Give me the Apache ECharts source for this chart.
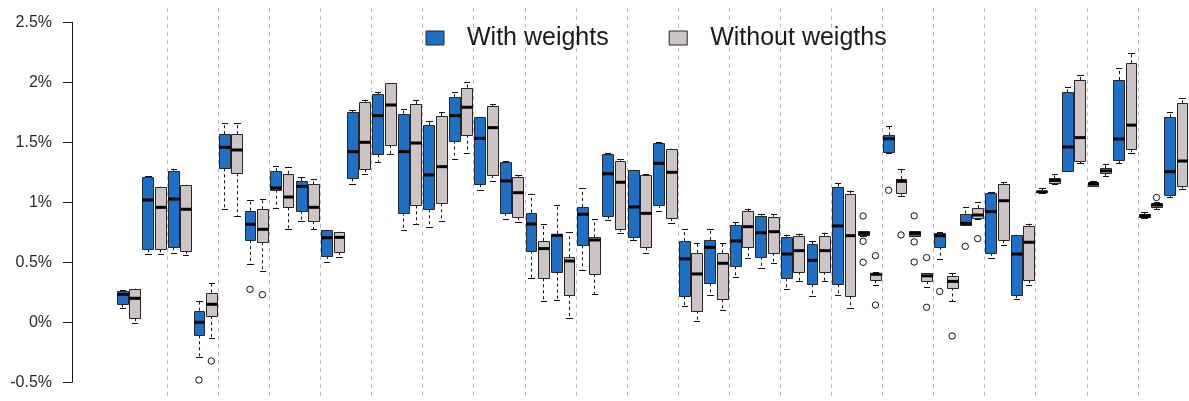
<!DOCTYPE html>
<html>
<head>
<meta charset="utf-8">
<script src="https://cdn.jsdelivr.net/npm/echarts@6/dist/echarts.min.js"></script>
<style>
html,body{margin:0;padding:0;background:#fff;}
#chart{width:1189px;height:401px;}
</style>
</head>
<body>
<div id="chart"></div>
<script>
// ---------------- data (values in %) ----------------
const categories = ['P1','P2','P3','P4','P5','P6','P7','P8','P9','P10','P11','P12','P13','P14',
  'P15','P16','P17','P18','P19','P20','P21','P22','P23','P24','P25','P26','P27','P28',
  'P29','P30','P31','P32','P33','P34','P35','P36','P37','P38','P39','P40','P41','P42'];

const seriesNames = ['With weights', 'Without weigths'];
const yTicks = [-0.5, 0, 0.5, 1, 1.5, 2, 2.5];

// With weights: whisker low, Q1, median, Q3, whisker high
const withMin = [0.117,0.567,0.58,-0.287,0.944,0.483,0.95,0.844,0.503,1.153,1.338,0.769,0.792,1.361,
  1.1,0.863,0.369,0.186,0.438,0.853,0.682,0.93,0.134,0.225,0.38,0.454,0.28,0.219,
  0.228,0.72,1.408,0.72,0.525,0.812,0.539,0.194,1.08,1.26,1.138,1.328,0.872,1.047];
const withQ1 = [0.15,0.608,0.625,-0.108,1.283,0.686,1.105,0.93,0.553,1.2,1.4,0.913,0.942,1.513,
  1.15,0.913,0.597,0.422,0.642,0.888,0.713,0.978,0.219,0.325,0.467,0.547,0.367,0.317,
  0.317,0.725,1.422,0.722,0.63,0.815,0.58,0.228,1.082,1.261,1.14,1.353,0.874,1.061];
const withMed = [0.233,1.019,1.027,0.0,1.458,0.817,1.119,1.133,0.705,1.422,1.722,1.422,1.228,1.722,
  1.533,1.178,0.819,0.725,0.9,1.238,0.961,1.325,0.529,0.625,0.678,0.746,0.569,0.517,
  0.803,0.742,1.53,0.742,0.722,0.825,0.922,0.569,1.088,1.461,1.155,1.528,0.886,1.255];
const withQ3 = [0.261,1.215,1.263,0.097,1.567,0.93,1.258,1.178,0.767,1.75,1.9,1.738,1.642,1.878,
  1.711,1.333,0.913,0.738,0.961,1.405,1.272,1.497,0.677,0.686,0.808,0.887,0.713,0.653,
  1.13,0.758,1.557,0.758,0.742,0.905,1.08,0.728,1.097,1.915,1.167,2.019,0.9,1.71];
const withMax = [0.269,1.219,1.28,0.18,1.658,1.019,1.305,1.211,0.77,1.769,1.917,1.775,1.677,1.922,
  1.711,1.345,1.072,0.98,1.117,1.41,1.272,1.5,0.778,0.778,0.836,0.905,0.73,0.675,
  1.158,0.76,1.636,0.76,0.75,0.958,1.085,0.73,1.117,1.958,1.18,2.117,0.92,1.755];

// Without weights
const woMin = [-0.005,0.567,0.558,-0.131,0.886,0.43,0.775,0.775,0.544,1.238,1.405,0.819,0.844,1.413,
  1.178,0.833,0.18,0.038,0.238,0.747,0.58,0.825,0.013,0.103,0.536,0.492,0.342,0.342,
  0.122,0.311,1.053,0.297,0.174,0.86,0.642,0.308,1.15,1.325,1.222,1.413,0.943,1.115];
const woQ1 = [0.035,0.608,0.597,0.053,1.242,0.667,0.958,0.844,0.586,1.278,1.478,0.975,0.992,1.563,
  1.228,0.878,0.367,0.228,0.405,0.78,0.625,0.869,0.097,0.192,0.625,0.58,0.422,0.422,
  0.219,0.352,1.08,0.344,0.29,0.87,0.686,0.353,1.163,1.342,1.242,1.442,0.958,1.137];
const woMed = [0.2,0.958,0.942,0.15,1.436,0.775,1.044,0.958,0.708,1.5,1.811,1.494,1.297,1.792,
  1.622,1.08,0.614,0.511,0.686,1.167,0.908,1.25,0.403,0.492,0.797,0.755,0.597,0.597,
  0.722,0.4,1.175,0.387,0.341,0.894,1.013,0.667,1.182,1.539,1.262,1.643,0.977,1.344];
const woQ3 = [0.275,1.125,1.142,0.247,1.567,0.942,1.238,1.15,0.75,1.838,1.992,1.817,1.719,1.955,
  1.8,1.213,0.678,0.542,0.708,1.347,1.228,1.442,0.579,0.578,0.925,0.88,0.722,0.722,
  1.072,0.413,1.193,0.413,0.387,0.95,1.15,0.804,1.2,2.019,1.283,2.158,0.997,1.825];
const woMax = [0.28,1.13,1.147,0.33,1.658,1.028,1.297,1.194,0.755,1.855,1.992,1.853,1.755,2.003,
  1.817,1.228,0.822,0.753,0.858,1.361,1.233,1.447,0.663,0.663,0.947,0.903,0.738,0.747,
  1.097,0.42,1.28,0.413,0.41,1.003,1.167,0.822,1.233,2.064,1.318,2.245,1.005,1.87];

// outliers: [category index, value]
const withOutliers = [[3,-0.481],[5,0.275],[29,0.886],[29,0.675],[29,0.5],[30,1.1],
  [31,0.887],[31,0.67],[31,0.502],[32,0.257],[33,0.633]];
const woOutliers = [[3,-0.323],[5,0.23],[29,0.555],[29,0.144],[30,0.728],[31,0.539],
  [31,0.125],[32,-0.114],[33,0.697],[40,1.04]];

// ---------------- build ----------------
const BLUE = '#1e6fc6';
const GREY = '#cec4c6';
const BORDER = '#262626';

function boxRows(mn, q1, md, q3, mx) {
  return categories.map((c, i) => [i, mn[i], q1[i], md[i], q3[i], mx[i]]);
}

function boxRenderer(offsetFrac, fill) {
  return function (params, api) {
    const cat = api.value(0);
    const bw = api.size([1, 0])[0];
    const cx = api.coord([cat, 0])[0] + offsetFrac * bw;
    const hw = bw * 0.212;
    const yv = i => api.coord([cat, api.value(i)])[1];
    const yMin = yv(1), yQ1 = yv(2), yMed = yv(3), yQ3 = yv(4), yMax = yv(5);
    const xl = Math.round(cx - hw) + 0.5, xr = Math.round(cx + hw) + 0.5;
    const xc = Math.round(cx) + 0.5;
    const capL = Math.round(cx - hw / 2), capR = Math.round(cx + hw / 2) + 1;
    const dash = {stroke: '#111', lineWidth: 1, lineDash: [3, 3]};
    const solid = {stroke: '#111', lineWidth: 1};
    return {
      type: 'group',
      children: [
        {type: 'line', shape: {x1: xc, y1: yQ3, x2: xc, y2: yMax}, style: dash},
        {type: 'line', shape: {x1: xc, y1: yQ1, x2: xc, y2: yMin}, style: dash},
        {type: 'line', shape: {x1: capL, y1: Math.round(yMax) + 0.5, x2: capR, y2: Math.round(yMax) + 0.5}, style: solid},
        {type: 'line', shape: {x1: capL, y1: Math.round(yMin) + 0.5, x2: capR, y2: Math.round(yMin) + 0.5}, style: solid},
        {type: 'rect', shape: {x: xl, y: Math.round(yQ3) + 0.5, width: xr - xl, height: Math.max(1, Math.round(yQ1) - Math.round(yQ3))},
          style: {fill: fill, stroke: BORDER, lineWidth: 1}},
        {type: 'line', shape: {x1: xl, y1: yMed, x2: xr, y2: yMed}, style: {stroke: '#000', lineWidth: 3}}
      ]
    };
  };
}

function outlierRenderer(offsetFrac) {
  return function (params, api) {
    const cat = api.value(0);
    const bw = api.size([1, 0])[0];
    const p = api.coord([cat, api.value(1)]);
    return {
      type: 'circle',
      shape: {cx: p[0] + offsetFrac * bw, cy: p[1], r: 3.2},
      style: {fill: null, stroke: '#111', lineWidth: 1}
    };
  };
}

const OFF_WITH = -0.258, OFF_WO = 0.227;

const option = {
  animation: false,
  backgroundColor: '#ffffff',
  legend: {
    data: [
      {name: seriesNames[0], itemStyle: {color: BLUE, borderColor: BORDER, borderWidth: 1}},
      {name: seriesNames[1], itemStyle: {color: GREY, borderColor: BORDER, borderWidth: 1}}
    ],
    icon: 'rect',
    left: 425.5,
    top: 25.5,
    padding: 0,
    itemWidth: 18,
    itemHeight: 14,
    itemGap: 60,
    selectedMode: false,
    textStyle: {fontFamily: 'Liberation Sans, Arial, sans-serif', fontSize: 25, color: '#1a1a1a', padding: [0, 0, 0, 18]}
  },
  grid: [
    {left: 116.1, top: 7.9, width: 1074.4, height: 388.8, containLabel: false},
    {left: 72, top: 22.3, width: 20, height: 360, containLabel: false}
  ],
  xAxis: [
    {
      type: 'category', gridIndex: 0, data: categories, boundaryGap: true,
      axisLine: {show: false}, axisTick: {show: false}, axisLabel: {show: false},
      splitLine: {show: true, showMinLine: false, lineStyle: {color: '#bcbcbc', width: 1, type: [4, 4]}}
    },
    {type: 'value', gridIndex: 1, show: false, min: 0, max: 1}
  ],
  yAxis: [
    {type: 'value', gridIndex: 0, show: false, min: -0.62, max: 2.62, splitLine: {show: false}},
    {
      type: 'value', gridIndex: 1, min: yTicks[0], max: yTicks[yTicks.length - 1], interval: 0.5,
      axisLine: {show: true, lineStyle: {color: '#1a1a1a', width: 1}},
      axisTick: {show: true, length: 9, lineStyle: {color: '#1a1a1a'}},
      axisLabel: {show: true, margin: 20, fontSize: 16, color: '#2a2a2a',
        fontFamily: 'Liberation Sans, Arial, sans-serif', formatter: v => v + '%'},
      splitLine: {show: false}
    }
  ],
  series: [
    {
      name: seriesNames[0], type: 'custom', xAxisIndex: 0, yAxisIndex: 0,
      itemStyle: {color: BLUE},
      encode: {x: 0, y: [1, 2, 3, 4, 5]},
      data: boxRows(withMin, withQ1, withMed, withQ3, withMax),
      renderItem: boxRenderer(OFF_WITH, BLUE), clip: false, silent: true
    },
    {
      name: seriesNames[1], type: 'custom', xAxisIndex: 0, yAxisIndex: 0,
      itemStyle: {color: GREY},
      encode: {x: 0, y: [1, 2, 3, 4, 5]},
      data: boxRows(woMin, woQ1, woMed, woQ3, woMax),
      renderItem: boxRenderer(OFF_WO, GREY), clip: false, silent: true
    },
    {
      name: seriesNames[0], type: 'custom', xAxisIndex: 0, yAxisIndex: 0,
      itemStyle: {color: BLUE}, encode: {x: 0, y: 1},
      data: withOutliers, renderItem: outlierRenderer(OFF_WITH), silent: true
    },
    {
      name: seriesNames[1], type: 'custom', xAxisIndex: 0, yAxisIndex: 0,
      itemStyle: {color: GREY}, encode: {x: 0, y: 1},
      data: woOutliers, renderItem: outlierRenderer(OFF_WO), silent: true
    }
  ]
};

const chart = echarts.init(document.getElementById('chart'), null, {renderer: 'canvas'});
chart.setOption(option);
</script>
</body>
</html>
